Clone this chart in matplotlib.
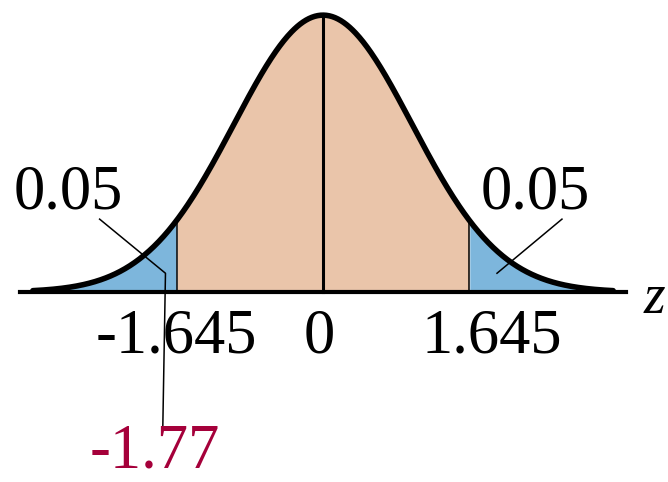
import numpy as np
import matplotlib
matplotlib.use("Agg")
import matplotlib.pyplot as plt

# values shown on the chart
z_crit = 1.645
alpha = 0.05
z_obs = -1.77
z_min, z_max = -3.26, 3.26
tick_vals = [-1.645, 0, 1.645]
tick_labels = ["-1.645", "0", "1.645"]

peach = "#EAC5AA"
blue = "#7DB6DC"
red = "#A5003A"

z = np.linspace(z_min, z_max, 600)
pdf = np.exp(-z ** 2 / 2) / np.sqrt(2 * np.pi)

def npdf(x):
    return np.exp(-x ** 2 / 2) / np.sqrt(2 * np.pi)

fig = plt.figure(figsize=(6.68, 4.82), dpi=100)
ax = fig.add_axes([0, 0, 1, 1])
ax.set_xlim(-323 / 89, (668 - 323) / 89)
ax.set_ylim((292 - 482) / 694, 292 / 694)
ax.axis("off")

# shaded regions
mid = (z >= -z_crit) & (z <= z_crit)
ax.fill_between(z, 0, pdf, where=mid, color=peach, lw=0)
ax.fill_between(z, 0, pdf, where=z <= -z_crit, color=blue, lw=0, interpolate=True)
ax.fill_between(z, 0, pdf, where=z >= z_crit, color=blue, lw=0, interpolate=True)

# vertical lines
for v in [-z_crit, z_crit]:
    ax.plot([v, v], [0, npdf(v)], color="black", lw=1.1)
ax.plot([0, 0], [0, npdf(0)], color="black", lw=2.2)

# curve and axis
ax.plot(z, pdf, color="black", lw=4, solid_capstyle="round")
ax.plot([-3.40, 3.40], [0, 0], color="black", lw=3)

# pointer lines
ax.plot([-2.51, z_obs, z_obs, -1.80], [0.105, 0.027, 0.027, -0.195], color="black", lw=1.1)
ax.plot([2.685, 1.955], [0.105, 0.027], color="black", lw=1.1)

font = {"family": "Liberation Serif", "size": 45}
ax.text(-2.865, 0.1196, f"{alpha:.2f}", ha="center", va="baseline", **font)
ax.text(2.382, 0.1196, f"{alpha:.2f}", ha="center", va="baseline", **font)

label_x = [-1.652, -0.045, 1.899]
for x, lab in zip(label_x, tick_labels):
    ax.text(x, -0.0865, lab, ha="center", va="baseline", **font)

ax.text(-1.888, -0.2525, f"{z_obs:.2f}", ha="center", va="baseline", color=red, **font)
ax.text(3.60, -0.030, "z", ha="left", va="baseline", style="italic",
        family="Liberation Serif", size=40)

fig.savefig("out.png", dpi=100)
